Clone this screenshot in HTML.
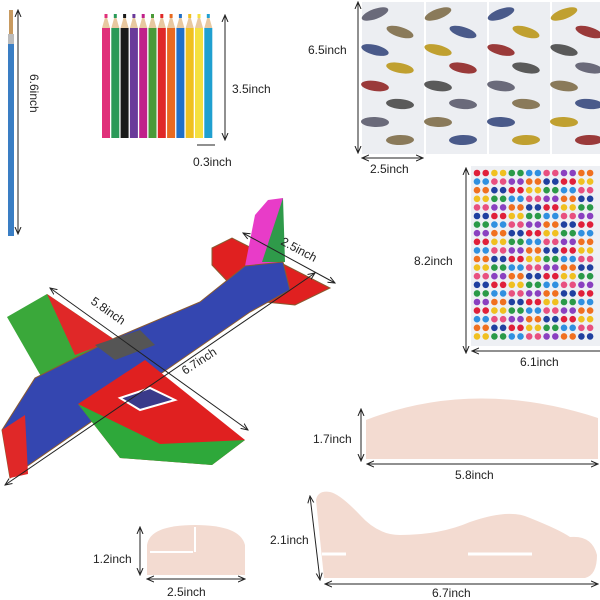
<!DOCTYPE html>
<html><head><meta charset="utf-8"><style>
html,body{margin:0;padding:0;background:#fff}
svg{display:block}
text{font-family:"Liberation Sans",sans-serif;font-size:12px;fill:#222}
</style></head><body>
<svg id="s" width="600" height="600" viewBox="0 0 600 600" xmlns="http://www.w3.org/2000/svg">
<defs>
<marker id="a" markerWidth="8" markerHeight="8" refX="7" refY="4" orient="auto-start-reverse"><path d="M0,1 L7,4 L0,7" fill="none" stroke="#222" stroke-width="1"/></marker>
</defs>
<rect x="9" y="10" width="4" height="25" fill="#c89a60"/>
<rect x="8" y="34" width="6" height="10" fill="#bbb"/>
<rect x="8" y="44" width="6" height="192" fill="#3a7ec4"/>
<line x1="18" y1="10" x2="18" y2="234" stroke="#222" marker-start="url(#a)" marker-end="url(#a)"/>
<text transform="translate(30,74) rotate(90)">6.6inch</text>
<g id="pen"></g>
<line x1="225" y1="15" x2="225" y2="140" stroke="#222" marker-start="url(#a)" marker-end="url(#a)"/>
<text x="232" y="93">3.5inch</text>
<line x1="197" y1="145" x2="215" y2="145" stroke="#222"/>
<text x="193" y="166">0.3inch</text>
<rect x="362" y="2" width="62" height="152" fill="#eceef2"/>
<rect x="426" y="2" width="61" height="152" fill="#eceef2"/>
<rect x="489" y="2" width="61" height="152" fill="#eceef2"/>
<rect x="552" y="2" width="48" height="152" fill="#eceef2"/>
<g id="pl"></g>
<line x1="358" y1="2" x2="358" y2="153" stroke="#222" marker-start="url(#a)" marker-end="url(#a)"/>
<text x="308" y="54">6.5inch</text>
<line x1="362" y1="158" x2="423" y2="158" stroke="#222" marker-start="url(#a)" marker-end="url(#a)"/>
<text x="370" y="173">2.5inch</text>
<rect x="471" y="166" width="129" height="180" fill="#eef0f4"/>
<g id="gm"></g>
<line x1="466" y1="168" x2="466" y2="353" stroke="#222" marker-start="url(#a)" marker-end="url(#a)"/>
<text x="414" y="265">8.2inch</text>
<line x1="472" y1="351" x2="600" y2="351" stroke="#222" marker-start="url(#a)"/>
<text x="520" y="366">6.1inch</text>
<!-- airplane -->
<polygon points="7,317 47,294 115,340 60,372 42,378" fill="#3aa83a"/>
<polygon points="47,294 115,340 75,355" fill="#e02828"/>
<polygon points="212,248 232,238 330,288 295,305 245,300 212,265" fill="#e02020" stroke="#8a5a30" stroke-width="1"/>
<polygon points="245,266 255,215 268,200 283,198 283,262" fill="#e83cc8"/>
<polygon points="262,262 283,198 285,262" fill="#2f9a4a"/>
<polygon points="2,430 35,378 115,338 200,302 245,266 283,262 290,290 250,312 10,478" fill="#3446b0" stroke="#8a5a30" stroke-width="1"/>
<polygon points="2,430 25,415 28,474 10,478" fill="#e02828"/>
<polygon points="78,404 145,360 245,440 212,465 120,458" fill="#e02020"/>
<polygon points="78,404 120,458 212,465 245,440 160,444" fill="#2ea83a"/>
<path d="M95,345 L140,330 L155,345 L115,360Z" fill="#555"/>
<path d="M120,398 L150,388 L175,400 L140,410Z" fill="#3a3a8a" stroke="#fff" stroke-width="2"/>
<line x1="50" y1="288" x2="248" y2="430" stroke="#222" marker-start="url(#a)" marker-end="url(#a)"/>
<text transform="translate(90,303) rotate(35)">5.8inch</text>
<line x1="5" y1="485" x2="315" y2="273" stroke="#222" marker-start="url(#a)" marker-end="url(#a)"/>
<text transform="translate(185,375) rotate(-33)">6.7inch</text>
<line x1="243" y1="233" x2="335" y2="283" stroke="#222" marker-start="url(#a)" marker-end="url(#a)"/>
<text transform="translate(280,244) rotate(28)">2.5inch</text>
<!-- wing piece -->
<path d="M366,459 L366,420 Q475,378 598,418 L598,459Z" fill="#f3dbd1"/>
<line x1="361" y1="409" x2="361" y2="461" stroke="#222" marker-start="url(#a)" marker-end="url(#a)"/>
<text x="313" y="443">1.7inch</text>
<line x1="367" y1="464" x2="598" y2="464" stroke="#222" marker-start="url(#a)" marker-end="url(#a)"/>
<text x="455" y="479">5.8inch</text>
<!-- tail piece -->
<path d="M147,575 L147,545 Q150,525 195,525 Q240,525 245,545 L245,575Z" fill="#f3dbd1"/>
<line x1="150" y1="552" x2="193" y2="552" stroke="#fff" stroke-width="2"/>
<line x1="195" y1="527" x2="195" y2="552" stroke="#fff" stroke-width="2"/>
<line x1="140" y1="527" x2="140" y2="575" stroke="#222" marker-start="url(#a)" marker-end="url(#a)"/>
<text x="93" y="563">1.2inch</text>
<line x1="147" y1="579" x2="245" y2="579" stroke="#222" marker-start="url(#a)" marker-end="url(#a)"/>
<text x="167" y="596">2.5inch</text>
<!-- fuselage piece -->
<path d="M324,578 L316,500 Q318,490 330,492 Q340,494 360,515 Q378,535 400,535 Q440,535 470,522 Q510,508 530,518 Q560,530 570,537 Q592,535 597,555 Q597,575 585,578Z" fill="#f3dbd1"/>
<line x1="322" y1="554" x2="346" y2="554" stroke="#fff" stroke-width="3"/>
<line x1="468" y1="554" x2="532" y2="554" stroke="#fff" stroke-width="3"/>
<line x1="310" y1="496" x2="320" y2="580" stroke="#222" marker-start="url(#a)" marker-end="url(#a)"/>
<text x="270" y="544">2.1inch</text>
<line x1="325" y1="584" x2="598" y2="584" stroke="#222" marker-start="url(#a)" marker-end="url(#a)"/>
<text x="432" y="597">6.7inch</text>
</svg>
<script>
var N="http://www.w3.org/2000/svg";
function el(p,t,a){var e=document.createElementNS(N,t);for(var k in a)e.setAttribute(k,a[k]);document.getElementById(p).appendChild(e);}
var pc=["#e0307a","#2a9a58","#1a1a1a","#6a3a9a","#c0208a","#4a9a38","#e02828","#e86a20","#2070c8","#f0c020","#f5e040","#20a0d0"];
for(var i=0;i<12;i++){var x=102+i*9.3;el("pen","rect",{x:x,y:28,width:8,height:110,fill:pc[i]});el("pen","polygon",{points:(x)+",28 "+(x+8)+",28 "+(x+4)+",14",fill:"#e8c8a0"});el("pen","rect",{x:x+2.5,y:14,width:3,height:4,fill:pc[i]});}
var pcol=["#6a6a7a","#8a7a5a","#4a5a8a","#c0a030","#9a3a3a","#5a5a5a"];
for(var c=0;c<4;c++)for(var r=0;r<8;r++){el("pl","ellipse",{cx:375+c*63+(r%2)*25,cy:14+r*18,rx:14,ry:5,fill:pcol[(c+r)%6],transform:"rotate("+((r*37)%40-20)+" "+(375+c*63+(r%2)*25)+" "+(14+r*18)+")"});}
var gc=["#e0203a","#f0c020","#2a9a48","#3090e0","#e85080","#8a40c0","#f07020","#2040a0"];
for(var r=0;r<20;r++)for(var c=0;c<14;c++){el("gm","circle",{cx:477+c*8.7,cy:173+r*8.6,r:3.3,fill:gc[(Math.floor(c/2)+r*3)%8]});}
</script>
</body></html>
